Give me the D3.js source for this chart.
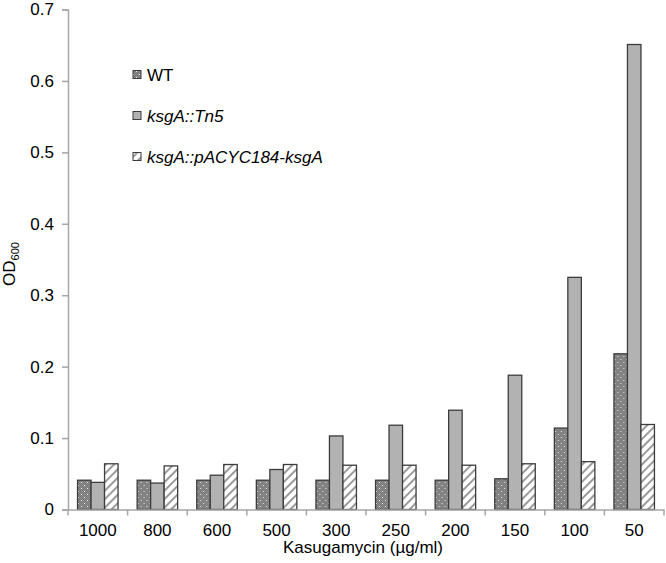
<!DOCTYPE html>
<html>
<head>
<meta charset="utf-8">
<script src="https://cdn.jsdelivr.net/npm/d3@7/dist/d3.min.js"></script>
<style>
  html, body { margin: 0; padding: 0; background: #fff; }
  svg { display: block; }
  text { font-family: "Liberation Sans", Arial, sans-serif; fill: #000; }
</style>
</head>
<body>
<svg id="chart" width="666" height="563"></svg>
<script>
const categories = ["1000", "800", "600", "500", "300", "250", "200", "150", "100", "50"];
const seriesNames = ["WT", "ksgA::Tn5", "ksgA::pACYC184-ksgA"];
const wtValues   = [0.041, 0.041, 0.041, 0.041, 0.041, 0.041, 0.041, 0.043, 0.114, 0.218];
const tn5Values  = [0.038, 0.037, 0.048, 0.056, 0.103, 0.118, 0.139, 0.188, 0.325, 0.651];
const compValues = [0.064, 0.061, 0.063, 0.063, 0.062, 0.062, 0.062, 0.064, 0.067, 0.119];
const yTicks = [0, 0.1, 0.2, 0.3, 0.4, 0.5, 0.6, 0.7];
const xTitle = "Kasugamycin (µg/ml)";

const seriesValues = [wtValues, tn5Values, compValues];
const svg = d3.select("#chart");
const mLeft = 68, mRight = 664, mTop = 9.5, mBottom = 509.5;

// patterns
const defs = svg.append("defs");
const pDots = defs.append("pattern").attr("id", "pDots").attr("patternUnits", "userSpaceOnUse")
  .attr("width", 6).attr("height", 6);
pDots.append("rect").attr("width", 6).attr("height", 6).attr("fill", "#8e8e8e");
[[0,0],[2,0],[4,0],[1,1],[3,1],[5,1],[0,2],[2,2],[4,2],[1,3],[3,3],[5,3],[0,4],[2,4],[4,4],[1,5],[3,5],[5,5]]
  .forEach(([x,y]) => pDots.append("rect").attr("x", x).attr("y", y).attr("width", 1).attr("height", 1).attr("fill", "#767676"));
pDots.append("rect").attr("x", 1).attr("y", 2).attr("width", 1).attr("height", 1).attr("fill", "#f4f4f4");
pDots.append("rect").attr("x", 4).attr("y", 5).attr("width", 1).attr("height", 1).attr("fill", "#f4f4f4");

const pHatch = defs.append("pattern").attr("id", "pHatch").attr("patternUnits", "userSpaceOnUse")
  .attr("width", 6).attr("height", 6).attr("patternTransform", "rotate(45)");
pHatch.append("rect").attr("width", 6).attr("height", 6).attr("fill", "#ffffff");
pHatch.append("rect").attr("x", 0).attr("y", 0).attr("width", 2).attr("height", 6).attr("fill", "#9a9a9a");

const fills = ["url(#pDots)", "#b2b2b2", "url(#pHatch)"];

// scales
const x0 = d3.scaleBand().domain(categories).range([mLeft, mRight]).padding(0);
const x1 = d3.scaleBand().domain(d3.range(seriesNames.length)).range([0, x0.bandwidth()])
  .paddingInner(0).paddingOuter(0.707);
const y = d3.scaleLinear().domain([0, 0.7]).range([mBottom, mTop]);

// y axis
const yAxis = d3.axisLeft(y).tickValues(yTicks).tickSize(6).tickPadding(8)
  .tickFormat(d => d === 0 ? "0" : d3.format(".1f")(d));
const gy = svg.append("g").attr("transform", `translate(${mLeft},0)`).call(yAxis);
gy.select(".domain").attr("stroke", "#a6a6a6").attr("stroke-width", 1.5);
gy.selectAll(".tick line").attr("stroke", "#a6a6a6").attr("stroke-width", 1.5);
gy.selectAll(".tick text").attr("font-size", 17).attr("font-family", "Liberation Sans, Arial, sans-serif").attr("fill", "#000");

// bars
const groups = svg.append("g").selectAll("g").data(categories).join("g")
  .attr("transform", d => `translate(${x0(d)},0)`);
groups.selectAll("rect").data((c, ci) => seriesValues.map((vals, si) => ({si, v: vals[ci]})))
  .join("rect")
  .attr("x", d => x1(d.si))
  .attr("width", x1.bandwidth())
  .attr("y", d => y(d.v))
  .attr("height", d => y(0) - y(d.v))
  .attr("fill", d => fills[d.si])
  .attr("stroke", "#3c3c3c")
  .attr("stroke-width", 1.3);

// x axis
const xAxis = d3.axisBottom(x0).tickSize(0).tickPadding(14);
const gx = svg.append("g").attr("transform", `translate(0,${mBottom})`).call(xAxis);
gx.select(".domain").attr("stroke", "#a6a6a6").attr("stroke-width", 1.5);
gx.selectAll(".tick text").attr("font-size", 17).attr("font-family", "Liberation Sans, Arial, sans-serif").attr("fill", "#000");
const boundaries = categories.map(c => x0(c)).concat([mRight]);
gx.selectAll(".bnd").data(boundaries).join("line").attr("class", "bnd")
  .attr("x1", d => d).attr("x2", d => d).attr("y1", 0).attr("y2", 6)
  .attr("stroke", "#a6a6a6").attr("stroke-width", 1.5);

// axis titles
svg.append("text").attr("x", (mLeft + mRight) / 2 - 3).attr("y", 553)
  .attr("text-anchor", "middle").attr("font-size", 17).text(xTitle);
const yt = svg.append("text").attr("transform", "translate(15,264) rotate(-90)")
  .attr("text-anchor", "middle").attr("font-size", 17);
yt.append("tspan").text("OD");
yt.append("tspan").attr("font-size", 11).attr("dy", 4).text("600");

// legend
const legendY = [75, 116, 157];
const lg = svg.append("g");
seriesNames.forEach((name, i) => {
  lg.append("rect").attr("x", 133).attr("y", legendY[i] - 4.5).attr("width", 8).attr("height", 8)
    .attr("fill", fills[i]).attr("stroke", "#3c3c3c").attr("stroke-width", 1);
  lg.append("text").attr("x", 147).attr("y", legendY[i] + 6).attr("font-size", 17)
    .attr("font-style", i === 0 ? "normal" : "italic").text(name);
});
</script>
</body>
</html>
